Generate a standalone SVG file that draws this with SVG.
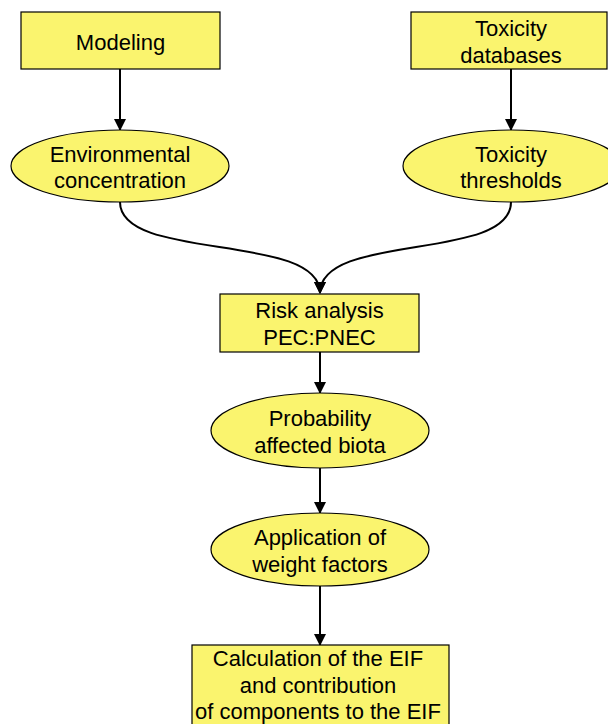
<svg xmlns="http://www.w3.org/2000/svg" width="608" height="724" viewBox="0 0 608 724">
<style>
.n{fill:#FAF46E;stroke:#000;stroke-width:1.2}
.t{font-family:"Liberation Sans",Arial,sans-serif;font-size:22px;fill:#000;text-anchor:middle}
.c{fill:none;stroke:#000;stroke-width:2}
</style>
<defs>
<marker id="ah" markerWidth="12" markerHeight="12" refX="11" refY="6" orient="auto" markerUnits="userSpaceOnUse">
<path d="M0,0 L12,6 L0,12 Z" fill="#000"/>
</marker>
</defs>
<rect width="608" height="724" fill="#fff"/>
<g id="connectors">
<line class="c" x1="120" y1="69" x2="120" y2="130" marker-end="url(#ah)"/>
<line class="c" x1="511" y1="69" x2="511" y2="130" marker-end="url(#ah)"/>
<path class="c" d="M120,202 C120,262 320,232 320,293" marker-end="url(#ah)"/>
<path class="c" d="M511,202 C511,262 320,232 320,293" marker-end="url(#ah)"/>
<line class="c" x1="320" y1="352" x2="320" y2="393" marker-end="url(#ah)"/>
<line class="c" x1="320" y1="468" x2="320" y2="513" marker-end="url(#ah)"/>
<line class="c" x1="320" y1="586" x2="320" y2="645" marker-end="url(#ah)"/>
</g>
<g id="modeling">
<rect class="n" x="21" y="12" width="199" height="57"/>
<text class="t" x="120.5" y="50">Modeling</text>
</g>
<g id="toxdb">
<rect class="n" x="411" y="12" width="196" height="57"/>
<text class="t" x="511" y="36">Toxicity</text>
<text class="t" x="511" y="63">databases</text>
</g>
<g id="envconc">
<ellipse class="n" cx="120" cy="166" rx="109" ry="36"/>
<text class="t" x="120" y="162">Environmental</text>
<text class="t" x="120" y="188">concentration</text>
</g>
<g id="toxthr">
<ellipse class="n" cx="512" cy="166" rx="109" ry="36"/>
<text class="t" x="511" y="162">Toxicity</text>
<text class="t" x="511" y="188">thresholds</text>
</g>
<g id="risk">
<rect class="n" x="220" y="294" width="199" height="58"/>
<text class="t" x="319.5" y="318">Risk analysis</text>
<text class="t" x="319.5" y="345">PEC:PNEC</text>
</g>
<g id="prob">
<ellipse class="n" cx="320" cy="430.5" rx="109" ry="37.5"/>
<text class="t" x="320" y="426">Probability</text>
<text class="t" x="320" y="453">affected biota</text>
</g>
<g id="weight">
<ellipse class="n" cx="320" cy="549.5" rx="109" ry="36.5"/>
<text class="t" x="320" y="545">Application of</text>
<text class="t" x="320" y="572">weight factors</text>
</g>
<g id="eif">
<rect class="n" x="192" y="645" width="257" height="85"/>
<text class="t" x="318" y="666">Calculation of the EIF</text>
<text class="t" x="318" y="693">and contribution</text>
<text class="t" x="318" y="719">of components to the EIF</text>
</g>
</svg>
